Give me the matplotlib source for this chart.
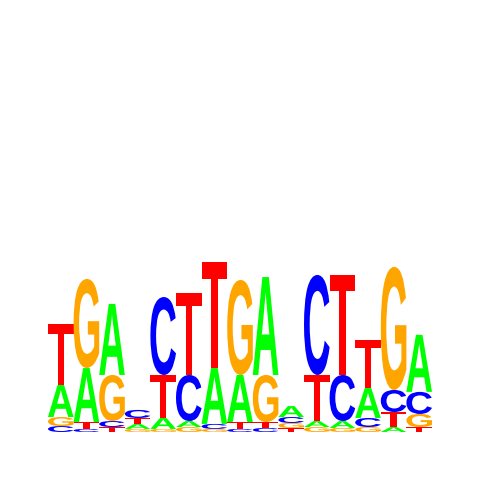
import matplotlib
matplotlib.use("Agg")
import matplotlib.pyplot as plt
from matplotlib.textpath import TextPath
from matplotlib.patches import PathPatch
from matplotlib.font_manager import FontProperties
from matplotlib.transforms import Affine2D

# information content (bits) per position
a_bits = [0.167, 0.281, 0.370, 0.026, 0.057, 0.031, 0.292, 0.245, 0.510, 0.057, 0.031, 0.036, 0.156, 0.026, 0.297]
c_bits = [0.031, 0.016, 0.031, 0.042, 0.406, 0.240, 0.026, 0.016, 0.021, 0.031, 0.521, 0.240, 0.047, 0.115, 0.115]
g_bits = [0.047, 0.464, 0.240, 0.016, 0.016, 0.026, 0.016, 0.495, 0.245, 0.026, 0.026, 0.021, 0.026, 0.641, 0.068]
t_bits = [0.318, 0.036, 0.026, 0.031, 0.224, 0.427, 0.552, 0.036, 0.031, 0.021, 0.240, 0.521, 0.250, 0.078, 0.026]

letters = ["A", "C", "G", "T"]
colors = {"A": "#00ff00", "C": "#0000ff", "G": "#ffa500", "T": "#ff0000"}
font = FontProperties(family="Liberation Sans", weight="bold")


def draw_letter(ax, letter, x, y, w, h):
    # stretch the glyph so it fills the box (x, y, w, h)
    path = TextPath((0, 0), letter, size=1, prop=font)
    ext = path.get_extents()
    tr = Affine2D().translate(-ext.x0, -ext.y0) \
        .scale(w / ext.width, h / ext.height).translate(x, y)
    ax.add_patch(PathPatch(tr.transform_path(path), facecolor=colors[letter],
                           edgecolor="none"))


fig = plt.figure(figsize=(4.8, 4.8), dpi=100)
ax = fig.add_axes([0.1, 0.1, 0.8, 0.8])

columns = list(zip(a_bits, c_bits, g_bits, t_bits))
for i, col in enumerate(columns):
    stack = sorted(zip(col, letters))
    y = 0.0
    for h, letter in stack:
        if h > 0:
            draw_letter(ax, letter, i, y, 1.0, h)
        y += h

ax.set_xlim(0, len(columns))
ax.set_ylim(0, 2)
ax.axis("off")

fig.savefig("out.png", dpi=100)
